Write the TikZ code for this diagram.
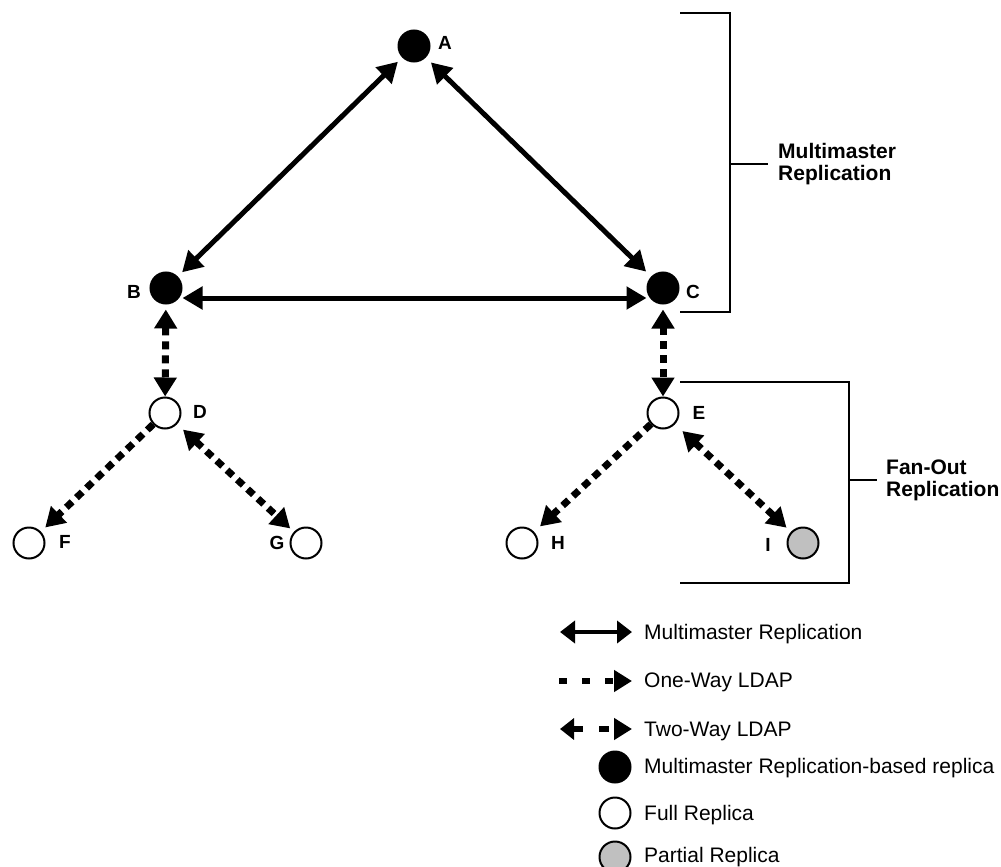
\documentclass[tikz,border=0pt]{standalone}
\usepackage{fontspec}
\setmainfont{Liberation Sans}
\usetikzlibrary{arrows.meta,positioning,calc}
\definecolor{partgray}{RGB}{192,192,192}

\begin{document}
\begin{tikzpicture}[
  x=1pt,y=-1pt,
  every node/.style={font=\fontsize{21}{22}\selectfont},
  master/.style={circle,draw=black,fill=black,line width=2pt,minimum size=31pt,inner sep=0pt},
  fullrep/.style={circle,draw=black,fill=white,line width=2pt,minimum size=31pt,inner sep=0pt},
  partrep/.style={fullrep,fill=partgray},
  letter/.style={font=\fontsize{19}{19}\selectfont\bfseries,inner sep=0pt},
  grplbl/.style={font=\fontsize{21}{22}\selectfont\bfseries,align=left,anchor=west,inner sep=0pt},
  legtxt/.style={anchor=base west,inner sep=0pt},
  mmarr/.style={{Triangle[length=20pt,width=22pt]}-{Triangle[length=20pt,width=22pt]},line width=5pt},
  oneway/.style={-{Triangle[length=19pt,width=22pt]},line width=7pt,dash pattern=on 8pt off 6pt},
  twoway/.style={{Triangle[length=19pt,width=22pt]}-{Triangle[length=19pt,width=22pt]},line width=7pt,dash pattern=on 8pt off 6pt},
  brk/.style={line width=1.5pt},
]
  \useasboundingbox (0,0) rectangle (1001,867);

  % Multimaster replicas
  \node[master] (A) at (414,46) {};
  \node[letter] (lA) at (445,43) {A};
  \node[master] (B) at (166,288) {};
  \node[letter] (lB) at (134,292) {B};
  \node[master] (C) at (663,288) {};
  \node[letter] (lC) at (693,292) {C};

  % Full / partial replicas
  \node[fullrep] (D) at (165,413) {};
  \node[letter] (lD) at (200,412) {D};
  \node[fullrep] (E) at (663,413) {};
  \node[letter] (lE) at (699,413) {E};
  \node[fullrep] (F) at (29,543) {};
  \node[letter] (lF) at (65,542) {F};
  \node[fullrep] (G) at (306,543) {};
  \node[letter] (lG) at (277,543) {G};
  \node[fullrep] (H) at (522,543) {};
  \node[letter] (lH) at (558,543) {H};
  \node[partrep] (I) at (803,543) {};
  \node[letter] (lI) at (768,545) {I};

  % Multimaster arrows
  \draw[mmarr,shorten <=6pt,shorten >=6pt] (B) -- (A);
  \draw[mmarr,shorten <=7pt,shorten >=7pt] (A) -- (C);
  \draw[mmarr] ([yshift=-10pt]B.east) -- ([yshift=-10pt]C.west);

  % LDAP arrows
  \draw[twoway,shorten <=5pt] (B) -- (D);
  \draw[twoway,shorten <=5pt] (C) -- (E);
  \draw[oneway,shorten >=6pt] (D) -- (F);
  \draw[twoway,shorten <=8pt,shorten >=5pt] (D) -- (G);
  \draw[oneway,shorten >=8pt] (E) -- (H);
  \draw[twoway,shorten <=10pt,shorten >=6pt] (E) -- (I);

  % Brackets
  \draw[brk] (680,13) -| (730,312) -- (680,312);
  \draw[brk] (730,164) -- (768,164);
  \node[grplbl] (mmlbl) at (778,164) {Multimaster\\Replication};
  \draw[brk] (680,382) -| (849,583) -- (680,583);
  \draw[brk] (849,480) -- (877,480);
  \node[grplbl] (folbl) at (886,480) {Fan-Out\\Replication};

  % Legend
  \coordinate (k1a) at (560,632);
  \coordinate (k1b) at (632,632);
  \draw[{Triangle[length=15pt,width=22pt]}-{Triangle[length=15pt,width=22pt]},line width=4pt] (k1a) -- (k1b);
  \node[legtxt] (k1) at (644,639) {Multimaster Replication};
  \coordinate (k2a) at (559,681);
  \coordinate (k2b) at (632,681);
  \draw[-{Triangle[length=18pt,width=21pt]},line width=6pt,dash pattern=on 8pt off 15pt] (k2a) -- (k2b);
  \node[legtxt] (k2) at (644,687) {One-Way LDAP};
  \coordinate (k3a) at (560,729);
  \coordinate (k3b) at (632,729);
  \draw[{Triangle[length=14pt,width=21pt]}-{Triangle[length=18pt,width=21pt]},line width=6pt,dash pattern=on 10pt off 16pt] (k3a) -- (k3b);
  \node[legtxt] (k3) at (644,736) {Two-Way LDAP};
  \node[master] (k4c) at (615,767) {};
  \node[legtxt] (k4) at (644,773) {Multimaster Replication-based replica};
  \node[fullrep] (k5c) at (615,813) {};
  \node[legtxt] (k5) at (644,820) {Full Replica};
  \node[partrep] (k6c) at (615,857) {};
  \node[legtxt] (k6) at (644,862) {Partial Replica};
\end{tikzpicture}
\end{document}
